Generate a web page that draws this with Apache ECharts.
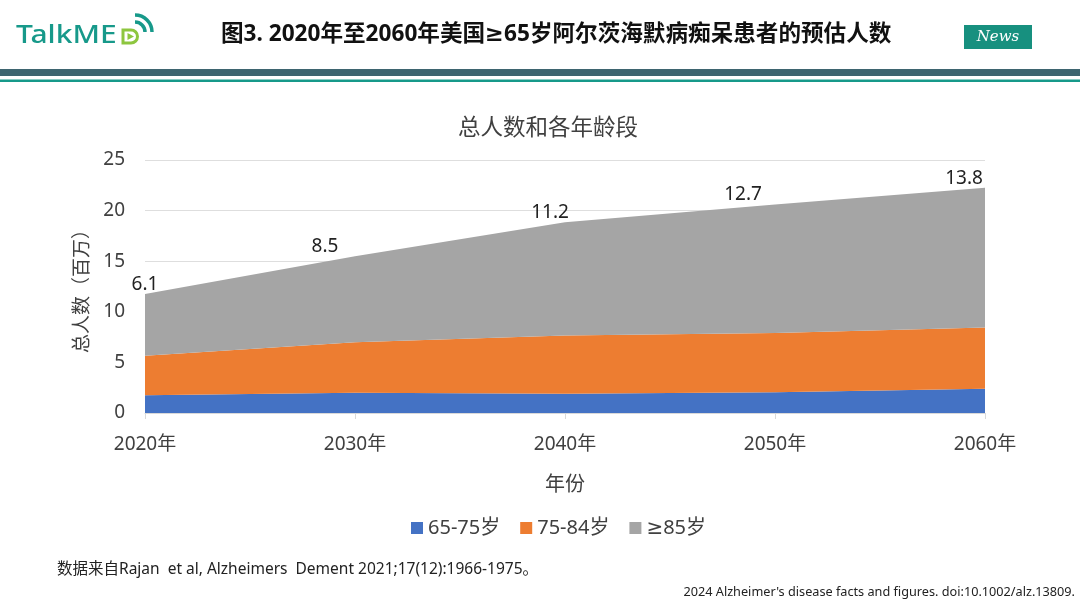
<!DOCTYPE html>
<html>
<head>
<meta charset="utf-8">
<script src="https://cdn.jsdelivr.net/npm/echarts@6/dist/echarts.min.js"></script>
<style>
html,body{margin:0;padding:0;background:#fff;}
#chart{width:1080px;height:608px;}
</style>
</head>
<body>
<div id="chart"></div>
<script>
// ---- data ----
const categories = ['2020年', '2030年', '2040年', '2050年', '2060年'];
const seriesNames = ['65-75岁', '75-84岁', '≥85岁'];
const age65to75 = [1.75, 2.0, 1.9, 2.05, 2.4];
const age75to84 = [3.9, 5.0, 5.75, 5.85, 6.05];
const age85plus = [6.1, 8.5, 11.2, 12.7, 13.8];
const yTicks = { min: 0, max: 25, interval: 5 };

// ---- layout (label nudges, not data) ----
const labelShiftX = [0, -30, -15, -32, -21];

const FONT = '"Noto Sans", "DejaVu Sans", "Noto Sans CJK SC", sans-serif';
const TXT = '#404040';
const colors = ['#4472c4', '#ed7d31', '#a5a5a5'];

const chart = echarts.init(document.getElementById('chart'), null, { renderer: 'canvas' });

function areaSeries(name, data, color, withLabels) {
  const s = {
    name: name,
    type: 'line',
    stack: 'total',
    data: withLabels ? data.map((v, i) => ({
      value: v,
      label: { offset: [labelShiftX[i], 2] }
    })) : data,
    symbol: 'circle',
    symbolSize: 0.1,
    showSymbol: true,
    lineStyle: { width: 0, color: color },
    itemStyle: { color: color },
    areaStyle: { color: color, opacity: 1 },
    emphasis: { disabled: true },
    animation: false,
    z: 2
  };
  if (withLabels) {
    s.label = {
      show: true,
      position: 'top',
      distance: 2,
      fontSize: 19,
      color: '#222',
      fontFamily: FONT
    };
  }
  return s;
}

const option = {
  backgroundColor: '#fff',
  animation: false,
  color: colors,
  title: {
    text: '总人数和各年龄段',
    left: 543,
    textAlign: 'center',
    top: 112,
    textStyle: { fontSize: 22.5, fontWeight: 'normal', color: TXT, fontFamily: FONT }
  },
  legend: {
    data: seriesNames.map((n, i) => ({ name: n, icon: 'rect', itemStyle: { color: colors[i] } })),
    left: 406,
    top: 513,
    itemWidth: 12,
    itemHeight: 12,
    itemGap: 20,
    textStyle: { fontSize: 20, color: TXT, fontFamily: FONT }
  },
  grid: { left: 145, right: 95, top: 160, bottom: 195, containLabel: false },
  xAxis: {
    type: 'category',
    data: categories,
    boundaryGap: false,
    name: '年份',
    nameLocation: 'middle',
    nameGap: 62,
    nameTextStyle: { fontSize: 20, color: TXT, fontFamily: FONT },
    axisLine: { show: true, lineStyle: { color: '#d9d9d9', width: 1 } },
    axisTick: { show: true, length: 6, lineStyle: { color: '#d9d9d9' } },
    axisLabel: { fontSize: 19, color: TXT, margin: 22, fontFamily: FONT },
    splitLine: { show: false }
  },
  yAxis: {
    type: 'value',
    min: yTicks.min,
    max: yTicks.max,
    interval: yTicks.interval,
    name: '总人数（百万）',
    nameLocation: 'middle',
    nameGap: 50,
    nameRotate: 90,
    nameTextStyle: { fontSize: 19, color: TXT, fontFamily: FONT },
    axisLine: { show: false },
    axisTick: { show: false },
    axisLabel: { fontSize: 19, color: TXT, margin: 20, fontFamily: FONT },
    splitLine: { show: true, lineStyle: { color: '#dedede', width: 1 } }
  },
  series: [
    areaSeries(seriesNames[0], age65to75, colors[0], false),
    areaSeries(seriesNames[1], age75to84, colors[1], false),
    areaSeries(seriesNames[2], age85plus, colors[2], true)
  ],
  graphic: [
    // header bands
    { type: 'rect', shape: { x: 0, y: 69, width: 1080, height: 7 }, style: { fill: '#3e6570' }, silent: true },
    { type: 'rect', shape: { x: 0, y: 79.5, width: 1080, height: 2.5 }, style: { fill: '#17998a' }, silent: true },
    // logo
    { type: 'text', x: 16, y: 23, scaleX: 1.2, style: { text: 'TalkME', fill: '#17998a', font: '500 25px "Noto Sans", sans-serif' }, silent: true },
    { type: 'polyline', shape: { points: [[131, 30], [123, 30], [123, 43], [131, 43]] }, style: { fill: 'none', stroke: '#8dc63f', lineWidth: 3 }, silent: true },
    { type: 'arc', shape: { cx: 131, cy: 36.5, r: 6.5, startAngle: -Math.PI / 2, endAngle: Math.PI / 2, clockwise: true }, style: { stroke: '#8dc63f', lineWidth: 3, fill: 'none' }, silent: true },
    { type: 'polygon', shape: { points: [[127.5, 33], [127.5, 40], [134, 36.5]] }, style: { fill: '#8dc63f' }, silent: true },
    { type: 'arc', shape: { cx: 135, cy: 32, r: 10, startAngle: -Math.PI / 2, endAngle: 0, clockwise: true }, style: { stroke: '#17998a', lineWidth: 3.5, fill: 'none' }, silent: true },
    { type: 'arc', shape: { cx: 135, cy: 32, r: 17, startAngle: -Math.PI / 2, endAngle: 0, clockwise: true }, style: { stroke: '#17998a', lineWidth: 3.5, fill: 'none' }, silent: true },
    // main title
    { type: 'text', x: 221, y: 23, style: { text: '图3. 2020年至2060年美国≥65岁阿尔茨海默病痴呆患者的预估人数', fill: '#111', font: 'bold 22.6px "Noto Sans", "DejaVu Sans", "Noto Sans CJK SC", sans-serif' }, silent: true },
    // News badge
    { type: 'rect', shape: { x: 964, y: 25, width: 68, height: 24 }, style: { fill: '#17907f' }, silent: true },
    { type: 'text', x: 998, y: 37, style: { text: 'News', fill: '#fff', font: 'italic 15px "DejaVu Serif", serif', align: 'center', verticalAlign: 'middle' }, silent: true },
    // footnotes
    { type: 'text', x: 57, y: 562, style: { text: '数据来自Rajan  et al, Alzheimers  Dement 2021;17(12):1966-1975。', fill: '#222', font: '15.5px "Noto Sans", "Noto Sans CJK SC", sans-serif' }, silent: true },
    { type: 'text', x: 1075, y: 586, style: { text: "2024 Alzheimer's disease facts and figures. doi:10.1002/alz.13809.", fill: '#222', font: '12.7px "Noto Sans", sans-serif', align: 'right' }, silent: true }
  ]
};

chart.setOption(option);
</script>
</body>
</html>
